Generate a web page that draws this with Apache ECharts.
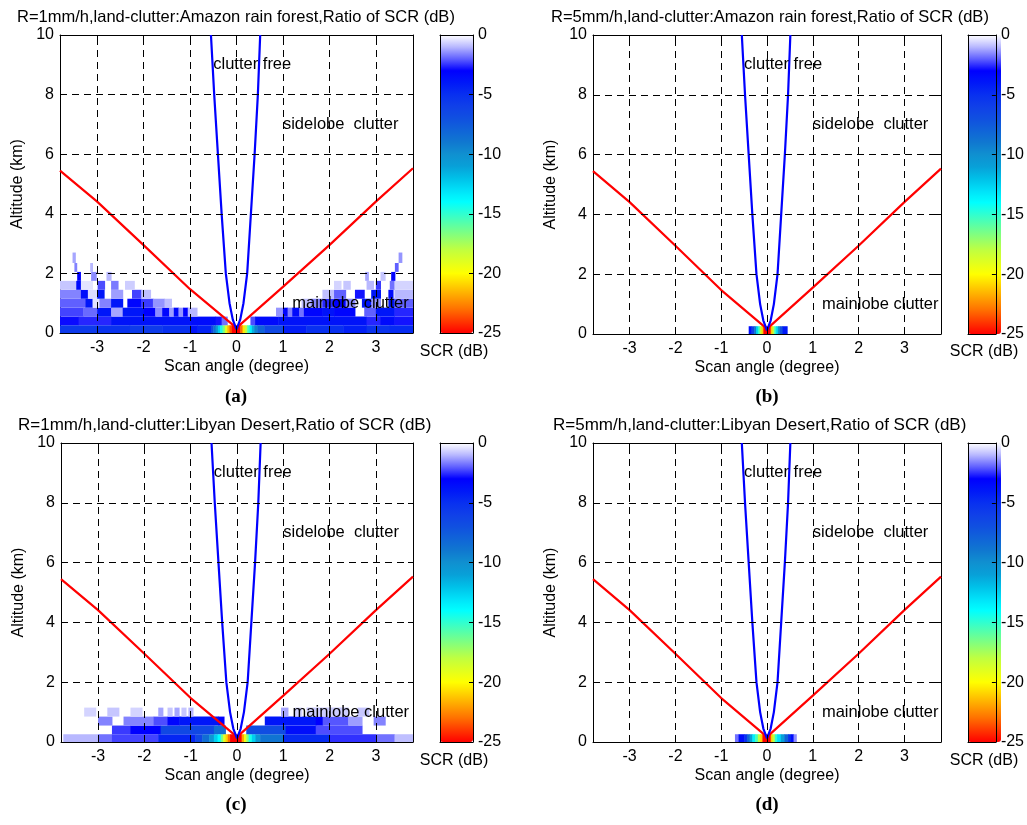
<!DOCTYPE html>
<html><head><meta charset="utf-8">
<script src="https://cdn.jsdelivr.net/npm/echarts@6/dist/echarts.min.js"></script>
<style>html,body{margin:0;padding:0;background:#fff}#c{width:1027px;height:825px}</style>
</head><body><div id="c"></div>
<script>
// ---------------- data ----------------
const xTicks = [-3, -2, -1, 0, 1, 2, 3];
const yTicks = [0, 2, 4, 6, 8, 10];
const xGridLines = [-3, -2, -1, 0, 1, 2, 3];
const yGridLines = [2, 4, 6, 8];
const cbTicks = [0, -5, -10, -15, -20, -25];
const titles = [
  'R=1mm/h,land-clutter:Amazon rain forest,Ratio of SCR (dB)',
  'R=5mm/h,land-clutter:Amazon rain forest,Ratio of SCR (dB)',
  'R=1mm/h,land-clutter:Libyan Desert,Ratio of SCR (dB)',
  'R=5mm/h,land-clutter:Libyan Desert,Ratio of SCR (dB)'
];
const panelLabels = ['(a)', '(b)', '(c)', '(d)'];
const xName = 'Scan angle (degree)';
const yName = 'Altitude (km)';
const cbName = 'SCR (dB)';
// mainlobe boundary (red) and clutter-free boundary (blue): [angle, altitude]
const redLine = [[-3.8,5.45],[-3,4.41],[-2,2.95],[-1,1.47],[0,0.17],[1,1.55],[2,2.95],[3,4.41],[3.8,5.53]];
const blueLine = [[-0.55,10],[-0.48,8],[-0.40,6],[-0.32,4],[-0.23,2],[-0.15,1],[-0.08,0.45],[0,0.12],
                  [0.08,0.45],[0.15,1],[0.23,2],[0.31,4],[0.39,6],[0.46,8],[0.51,10]];
const noteText = ['clutter free', 'sidelobe  clutter', 'mainlobe clutter'];
const noteAngle = [-0.5, 1.0, 1.2];
const noteAlt = [9.0, 7.0, 1.0];
// altitude edges of heatmap rows (km)
const rowEdges = [0, 0.26, 0.55, 0.85, 1.15, 1.45, 1.75, 2.05, 2.35, 2.7];
// SCR cells: [angleStart, angleEnd, row, SCR dB]
const cellsA = [
[-3.8,-3.0,0,-5.6],[-3.0,-2.3,0,-5.2],[-2.3,-1.6,0,-5.7],[-1.6,-1.0,0,-5.0],[-1.0,-0.85,0,-3.8],[-0.85,-0.55,0,-4.4],
[-0.55,-0.5,0,-6.5],[-0.5,-0.45,0,-8.5],[-0.45,-0.4,0,-10.5],[-0.4,-0.35,0,-12.5],[-0.35,-0.3,0,-14.5],[-0.3,-0.25,0,-16.5],[-0.25,-0.2,0,-19],[-0.2,-0.15,0,-21.5],[-0.15,-0.1,0,-23.5],[-0.1,0.08,0,-25],
[0.08,0.13,0,-23],[0.13,0.18,0,-20.5],[0.18,0.23,0,-18],[0.23,0.28,0,-15.5],[0.28,0.33,0,-13.5],[0.33,0.38,0,-11.5],[0.38,0.45,0,-9.5],[0.45,0.6,0,-8],[0.6,1.0,0,-6.5],[1.0,1.5,0,-4.2],[1.5,2.3,0,-5.0],[2.3,2.8,0,-4.3],[2.8,3.3,0,-5.2],[3.3,3.8,0,-4.8],
[-3.8,-3.4,1,-2.9],[-3.4,-2.7,1,-2.6],[-2.7,-1.0,1,-3.8],[-1.0,-0.45,1,-3.5],[-0.45,-0.32,1,-2.8],[-0.32,-0.2,1,-1.8],
[0.3,0.4,1,-2.2],[0.4,0.9,1,-3.4],[0.9,2.8,1,-3.8],[2.8,3.1,1,-2.6],[3.1,3.4,1,-3.4],[3.4,3.8,1,-2.8],
[-3.8,-3.3,2,-2.3],[-3.3,-3.0,2,-1.9],[-3.0,-2.7,2,-3.9],[-2.7,-2.45,2,-1.2],[-2.45,-2.0,2,-3.9],[-2.0,-1.75,2,-3.0],[-1.75,-1.6,2,-1.5],[-1.6,-1.45,2,-3.2],[-1.45,-1.35,2,-1.3],[-1.35,-1.25,2,-3.3],[-1.25,-1.15,2,-1.4],[-1.15,-1.05,2,-3.0],[-1.05,-0.85,2,-1.0],
[0.85,1.0,2,-1.4],[1.0,1.1,2,-3.2],[1.1,1.2,2,-1.6],[1.2,1.35,2,-3.4],[1.35,1.45,2,-1.8],[1.45,1.85,2,-3.2],[1.85,2.1,2,-3.8],[2.1,2.55,2,-3.2],[2.75,3.0,2,-2.0],[3.0,3.4,2,-3.9],[3.4,3.8,2,-2.6],
[-3.8,-3.25,3,-2.0],[-3.25,-3.1,3,-3.9],[-3.1,-2.95,3,-0.4],[-2.95,-2.7,3,-1.6],[-2.7,-2.45,3,-3.9],[-2.35,-2.05,3,-3.2],[-2.05,-1.8,3,-2.4],[-1.8,-1.55,3,-1.4],[-1.55,-1.4,3,-0.9],
[1.4,1.6,3,-0.9],[1.6,1.85,3,-1.6],[1.85,2.1,3,-2.6],[2.1,2.35,3,-3.0],[2.35,2.55,3,-1.5],[2.7,2.9,3,-3.9],[2.9,3.1,3,-1.4],[3.27,3.4,3,-3.9],[3.4,3.8,3,-2.0],
[-3.8,-3.35,4,-1.6],[-3.35,-3.2,4,-3.6],[-3.2,-3.0,4,-0.5],[-3.0,-2.85,4,-3.9],[-2.7,-2.45,4,-1.3],[-2.25,-2.05,4,-2.3],[-2.05,-1.85,4,-0.9],
[1.85,2.1,4,-0.9],[2.1,2.35,4,-2.0],[2.55,2.75,4,-2.8],[2.9,3.1,4,-3.9],[3.27,3.37,4,-3.5],[3.4,3.8,4,-1.0],
[-3.8,-3.45,5,-0.8],[-3.45,-3.35,5,-3.4],[-3.35,-3.1,5,-0.4],[-2.99,-2.84,5,-2.2],[-2.7,-2.55,5,-1.7],[-2.4,-2.2,5,-0.7],
[2.1,2.25,5,-0.6],[2.3,2.45,5,-0.8],[2.8,2.95,5,-1.0],[3.0,3.1,5,-2.4],[3.3,3.4,5,-1.8],[3.4,3.8,5,-0.6],
[-3.43,-3.36,6,-3.0],[-3.13,-3.02,6,-1.5],[-2.8,-2.7,6,-1.0],
[2.77,2.84,6,-1.2],[3.1,3.2,6,-0.8],[3.33,3.41,6,-3.0],
[-3.49,-3.44,7,-1.6],[-3.15,-3.1,7,-1.0],[3.41,3.48,7,-2.0],
[-3.53,-3.47,8,-1.2],[3.49,3.56,8,-1.4]
];
const cellsB = [
[-0.4,-0.34,0,-3.5],[-0.34,-0.28,0,-6],[-0.28,-0.24,0,-9],[-0.24,-0.2,0,-12.5],[-0.2,-0.16,0,-15],[-0.16,-0.12,0,-18],[-0.12,-0.08,0,-21],[-0.08,0.08,0,-25],
[0.08,0.12,0,-21],[0.12,0.16,0,-18],[0.16,0.2,0,-15],[0.2,0.24,0,-12.5],[0.24,0.28,0,-10],[0.28,0.34,0,-7],[0.34,0.44,0,-4]
];
const cellsC = [
[-3.75,-3.0,0,-1.0],[-3.0,-2.7,0,-1.8],[-2.7,-1.7,0,-2.3],[-1.7,-0.9,0,-4.6],[-0.9,-0.75,0,-6.5],[-0.75,-0.6,0,-8.5],[-0.6,-0.5,0,-10.5],[-0.5,-0.42,0,-12.5],[-0.42,-0.35,0,-14],[-0.35,-0.3,0,-16.5],[-0.3,-0.25,0,-19],[-0.25,-0.2,0,-21],[-0.2,-0.15,0,-23],[-0.15,0.1,0,-25],
[0.1,0.15,0,-22],[0.15,0.2,0,-19.5],[0.2,0.25,0,-17],[0.25,0.32,0,-14.5],[0.32,0.4,0,-12.5],[0.4,0.5,0,-10.5],[0.5,1.0,0,-8.8],[1.0,2.0,0,-4.8],[2.0,3.0,0,-2.5],[3.0,3.4,0,-1.8],[3.4,3.8,0,-0.9],
[-2.7,-2.3,1,-2.4],[-2.3,-1.65,1,-3.0],[-1.65,-0.5,1,-6.5],[-0.5,-0.25,1,-8.5],
[0.2,1.05,1,-6.8],[1.05,1.7,1,-3.6],[1.7,2.7,1,-2.2],
[-3.0,-2.7,2,-1.6],[-2.45,-1.8,2,-1.6],[-1.8,-1.5,2,-2.2],[-1.5,-1.25,2,-3.2],[-1.25,-0.4,2,-3.9],[-0.4,-0.28,2,-3.0],
[0.6,1.7,2,-3.9],[1.7,1.85,2,-3.0],[1.85,2.4,2,-2.1],[2.4,2.7,2,-1.3],[2.95,3.2,2,-1.6],
[-3.3,-3.05,3,-0.6],[-2.8,-2.55,3,-0.8],[-2.3,-2.05,3,-0.6],[-1.7,-1.6,3,-1.2],[-1.5,-1.4,3,-0.8],[-1.35,-1.25,3,-1.2],[-1.2,-1.1,3,-0.8],[-1.05,-0.95,3,-1.0],
[0.95,1.1,3,-1.2],[1.25,1.4,3,-0.6],[1.5,2.4,3,-0.7],[2.6,2.85,3,-0.8]
];
const cellsD = [
[-0.7,-0.62,0,-1.8],[-0.62,-0.5,0,-3.5],[-0.5,-0.44,0,-5],[-0.44,-0.38,0,-8],[-0.38,-0.32,0,-11],[-0.32,-0.26,0,-13.5],[-0.26,-0.2,0,-15.5],[-0.2,-0.15,0,-18],[-0.15,-0.1,0,-21],[-0.1,0.08,0,-25],
[0.08,0.12,0,-21],[0.12,0.17,0,-18],[0.17,0.22,0,-15],[0.22,0.3,0,-13],[0.3,0.38,0,-11],[0.38,0.46,0,-8],[0.46,0.52,0,-5],[0.52,0.58,0,-3.5],[0.58,0.64,0,-1.5]
];
// colormap for SCR from -25 dB (index 0) to 0 dB (last)
const scrColors = ['#ff0000','#ff3800','#ff7000','#ffa000','#ffd000','#ffff00','#e0ff20','#c0ff40','#90ff70','#60ffa0',
  '#30ffd0','#00ffff','#00e0f8','#00c0e8','#08a0d8','#1090d0','#1078d0','#1064d8','#1050e0','#1040e8',
  '#0830f0','#0018f8','#0000ff','#6060ff','#b8b8ff','#ffffff'];

// ---------------- layout ----------------
const FONT = '"Liberation Sans", Arial, sans-serif';
const panels = [
  {cells: cellsA, g:{left:60,top:35,width:353,height:298}, cb:{left:440,top:35,width:33,height:298}, tx:17, ty:17, tf:16.5, lx:236, ly:397, sx:454, sy:352},
  {cells: cellsB, g:{left:593,top:35,width:348,height:299}, cb:{left:968,top:35,width:33,height:299}, tx:551, ty:17, tf:16.5, lx:767, ly:397, sx:984, sy:352},
  {cells: cellsC, g:{left:61,top:443,width:352,height:299}, cb:{left:440,top:443,width:33,height:299}, tx:18, ty:425, tf:17, lx:236, ly:805, sx:454, sy:761},
  {cells: cellsD, g:{left:593,top:443,width:348,height:299}, cb:{left:968,top:443,width:33,height:299}, tx:553, ty:425, tf:17, lx:767, ly:805, sx:984, sy:761}
];

const grid = [], xAxis = [], yAxis = [], series = [], visualMap = [], graphic = [];
const black = {color:'#000', width:1};
const txt = {color:'#000', fontSize:16, fontFamily:FONT};

panels.forEach((p, i) => {
  const gi = grid.length;
  grid.push(Object.assign({containLabel:false}, p.g));
  const xb = xAxis.length;
  xAxis.push({gridIndex:gi, type:'value', min:-3.8, max:3.8, position:'bottom',
    axisLine:{onZero:false, lineStyle:black}, axisTick:{inside:true, length:5, customValues:xTicks, lineStyle:black},
    axisLabel:Object.assign({customValues:xTicks, margin:7}, txt), splitLine:{show:false},
    name:xName, nameLocation:'middle', nameGap:26, nameTextStyle:txt});
  xAxis.push({gridIndex:gi, type:'value', min:-3.8, max:3.8, position:'top',
    axisLine:{onZero:false, lineStyle:black}, axisTick:{inside:true, length:5, customValues:xTicks, lineStyle:black},
    axisLabel:{show:false}, splitLine:{show:false}});
  const yb = yAxis.length;
  yAxis.push({gridIndex:gi, type:'value', min:0, max:10, interval:2, position:'left',
    axisLine:{onZero:false, lineStyle:black}, axisTick:{inside:true, length:5, lineStyle:black},
    axisLabel:Object.assign({margin:6}, txt), splitLine:{show:false},
    name:yName, nameLocation:'middle', nameGap:34, nameTextStyle:txt});
  yAxis.push({gridIndex:gi, type:'value', min:0, max:10, interval:2, position:'right',
    axisLine:{onZero:false, lineStyle:black}, axisTick:{inside:true, length:5, lineStyle:black},
    axisLabel:{show:false}, splitLine:{show:false}});

  // heatmap cells
  const si = series.length;
  series.push({type:'custom', xAxisIndex:xb, yAxisIndex:yb, z:2, silent:true, clip:true,
    dimensions:['a0','a1','row','scr'], encode:{x:[0,1], y:2},
    data:p.cells,
    renderItem:(params, api) => {
      const r = api.value(2);
      const a = api.coord([api.value(0), rowEdges[r + 1]]);
      const b = api.coord([api.value(1), rowEdges[r]]);
      return {type:'rect', shape:{x:a[0], y:a[1], width:b[0] - a[0] + 0.5, height:b[1] - a[1]},
        style:{fill:api.visual('color')}};
    }});
  // dashed grid
  series.push({type:'line', xAxisIndex:xb, yAxisIndex:yb, z:3, data:[], silent:true,
    markLine:{silent:true, symbol:['none','none'], label:{show:false}, animation:false,
      lineStyle:{type:[7,5], color:'#000', width:1},
      data:xGridLines.map(v => ({xAxis:v})).concat(yGridLines.map(v => ({yAxis:v})))}});
  // boundaries
  series.push({type:'line', xAxisIndex:xb, yAxisIndex:yb, z:4, data:redLine, showSymbol:false, silent:true,
    lineStyle:{color:'#ff0000', width:2.2}});
  series.push({type:'line', xAxisIndex:xb, yAxisIndex:yb, z:4, data:blueLine, showSymbol:false, silent:true,
    lineStyle:{color:'#0000ff', width:2.2}});
  // region notes
  series.push({type:'scatter', xAxisIndex:xb, yAxisIndex:yb, z:5, silent:true, symbolSize:0,
    itemStyle:{color:'#000'},
    data:noteText.map((t, k) => [noteAngle[k], noteAlt[k], t]),
    label:{show:true, position:'right', distance:0, formatter:(q) => q.data[2], color:'#000', opacity:1,
      fontSize:16.5, fontFamily:FONT}});

  // colorbar
  visualMap.push({type:'continuous', seriesIndex:si, dimension:3, min:-25, max:0, calculable:false, hoverLink:false,
    realtime:false, orient:'vertical', left:p.cb.left, top:p.cb.top, itemWidth:p.cb.width, itemHeight:p.cb.height,
    padding:0, text:null, inRange:{color:scrColors}});
  const cg = grid.length;
  grid.push(Object.assign({containLabel:false}, p.cb));
  xAxis.push({gridIndex:cg, type:'value', min:0, max:1, position:'bottom', z:10,
    axisLine:{onZero:false, lineStyle:black}, axisTick:{show:false}, axisLabel:{show:false}, splitLine:{show:false}});
  xAxis.push({gridIndex:cg, type:'value', min:0, max:1, position:'top', z:10,
    axisLine:{onZero:false, lineStyle:black}, axisTick:{show:false}, axisLabel:{show:false}, splitLine:{show:false}});
  yAxis.push({gridIndex:cg, type:'value', min:-25, max:0, interval:5, position:'right', z:10,
    axisLine:{onZero:false, lineStyle:black}, axisTick:{inside:true, length:4, lineStyle:black},
    axisLabel:Object.assign({margin:5}, txt), splitLine:{show:false}});
  yAxis.push({gridIndex:cg, type:'value', min:-25, max:0, interval:5, position:'left', z:10,
    axisLine:{onZero:false, lineStyle:black}, axisTick:{show:false}, axisLabel:{show:false}, splitLine:{show:false}});

  graphic.push({type:'text', x:p.tx, y:p.ty, style:{text:titles[i], fill:'#000', font:p.tf + 'px ' + FONT, textVerticalAlign:'middle'}});
  graphic.push({type:'text', x:p.lx, y:p.ly, style:{text:panelLabels[i], fill:'#000', font:'bold 19px "Liberation Serif", serif', textAlign:'center', textVerticalAlign:'middle'}});
  graphic.push({type:'text', x:p.sx, y:p.sy, style:{text:cbName, fill:'#000', font:'16px ' + FONT, textAlign:'center', textVerticalAlign:'middle'}});
});

const chart = echarts.init(document.getElementById('c'));
chart.setOption({animation:false, backgroundColor:'#fff', grid, xAxis, yAxis, series, visualMap, graphic});
</script>
</body></html>
